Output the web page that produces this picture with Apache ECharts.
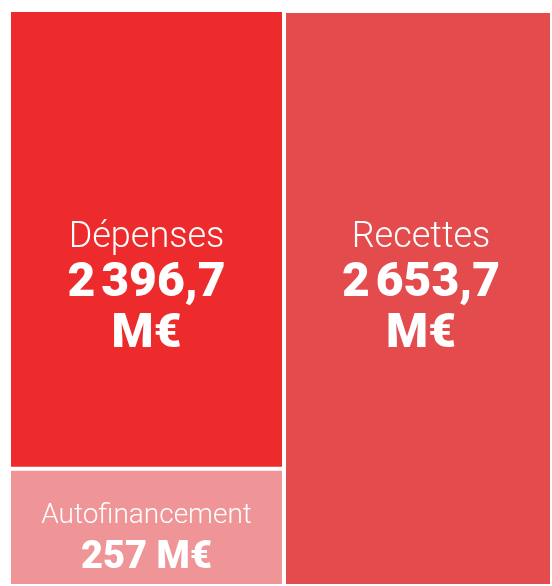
<!DOCTYPE html>
<html>
<head>
<meta charset="utf-8">
<script src="https://cdn.jsdelivr.net/npm/echarts@6/dist/echarts.min.js"></script>
<style>
html,body{margin:0;padding:0;background:#ffffff;}
#chart{width:552px;height:586px;}
</style>
</head>
<body>
<div id="chart"></div>
<script>
// ---- data ----
const names = ['Dépenses', 'Autofinancement', 'Recettes'];
const values = [2396.7, 257, 2653.7];
const unit = 'M€';
const leftColumn = ['Emplois'];
const rightColumn = ['Ressources'];

// ---- presentation (not to scale in the original: hidden axis starts below zero) ----
const AXIS_START = -356;
const COLORS = { dep: '#ED2A2C', auto: '#EF9597', rec: '#E34B4D' };
const FONT = 'Roboto, "Open Sans", sans-serif';

function fr(v) {
  const parts = String(v).split('.');
  const i = parts[0].replace(/\B(?=(\d{3})+(?!\d))/g, '\u202f');
  return parts[1] ? i + ',' + parts[1] : i;
}

const bigRich = {
  n: { fontFamily: FONT, fontWeight: 300, fontSize: 36, lineHeight: 40, color: '#ffffff' },
  v: { fontFamily: FONT, fontWeight: 900, fontSize: 48, lineHeight: 51, color: '#ffffff' }
};
const smallRich = {
  n: { fontFamily: FONT, fontWeight: 300, fontSize: 28, lineHeight: 44, color: '#ffffff' },
  v: { fontFamily: FONT, fontWeight: 900, fontSize: 38, lineHeight: 42, color: '#ffffff' }
};

const border = { borderColor: '#ffffff', borderWidth: 2 };

const chart = echarts.init(document.getElementById('chart'), null, { renderer: 'canvas' });
chart.setOption({
  animation: false,
  backgroundColor: '#ffffff',
  grid: [
    { left: 9, width: 275, top: 10, bottom: -1 },
    { left: 284, right: -1, top: 11, bottom: -1 }
  ],
  xAxis: [
    { type: 'category', gridIndex: 0, data: leftColumn, show: false },
    { type: 'category', gridIndex: 1, data: rightColumn, show: false }
  ],
  yAxis: [
    { type: 'value', gridIndex: 0, min: AXIS_START, max: values[2], startValue: AXIS_START, show: false },
    { type: 'value', gridIndex: 1, min: AXIS_START, max: values[2], startValue: AXIS_START, show: false }
  ],
  series: [
    {
      name: names[1], type: 'bar', xAxisIndex: 0, yAxisIndex: 0, stack: 'left',
      barWidth: '100%', barCategoryGap: 0,
      data: [values[1]],
      itemStyle: Object.assign({ color: COLORS.auto }, border),
      label: {
        show: true, position: ['50%', 25], align: 'center', verticalAlign: 'top',
        formatter: () => '{n|' + names[1] + '}\n{v|' + fr(values[1]) + ' ' + unit + '}',
        rich: smallRich
      }
    },
    {
      name: names[0], type: 'bar', xAxisIndex: 0, yAxisIndex: 0, stack: 'left',
      barWidth: '100%', barCategoryGap: 0,
      data: [values[0]],
      itemStyle: Object.assign({ color: COLORS.dep }, border),
      label: {
        show: true, position: ['50%', 208], align: 'center', verticalAlign: 'top',
        formatter: () => '{n|' + names[0] + '}\n{v|' + fr(values[0]) + '}\n{v|' + unit + '}',
        rich: bigRich
      }
    },
    {
      name: names[2], type: 'bar', xAxisIndex: 1, yAxisIndex: 1,
      barWidth: '100%', barCategoryGap: 0,
      data: [values[2]],
      itemStyle: Object.assign({ color: COLORS.rec }, border),
      label: {
        show: true, position: ['50%', 207], offset: [3, 0], align: 'center', verticalAlign: 'top',
        formatter: () => '{n|' + names[2] + '}\n{v|' + fr(values[2]) + '}\n{v|' + unit + '}',
        rich: bigRich
      }
    }
  ]
});
</script>
</body>
</html>
